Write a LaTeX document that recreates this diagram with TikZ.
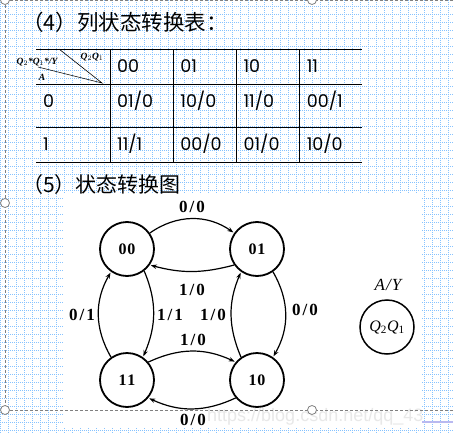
\documentclass[tikz,border=0pt]{standalone}
\usepackage{fontspec}
\setmainfont{Liberation Serif}
\newfontfamily\cjk{Noto Sans CJK SC}
\newfontfamily\cellfont{Poppins}
\newfontfamily\wmfont{Liberation Sans}
\usetikzlibrary{arrows.meta}
\definecolor{gridblue}{RGB}{135,195,255}
\definecolor{framegray}{RGB}{128,128,128}
\definecolor{wmgray}{RGB}{232,232,232}
\definecolor{barpurple}{RGB}{185,185,240}
\begin{document}
\begin{tikzpicture}[x=1pt,y=-1pt,
  gridline/.style={gridblue,line width=0.9pt,dash pattern=on 1pt off 1pt},
  tabline/.style={line width=0.8pt},
  cell/.style={anchor=west,inner sep=0pt,font=\cellfont\fontsize{17.5}{19}\selectfont},
  head/.style={inner sep=0pt,font=\bfseries\itshape\fontsize{9.5}{10}\selectfont},
  state/.style={circle,draw,line width=1.8pt,minimum size=54pt,inner sep=0pt,font=\bfseries\fontsize{16}{18}\selectfont},
  lbl/.style={inner sep=0pt,font=\bfseries\fontsize{17}{19}\selectfont},
  trans/.style={line width=1.2pt,-{Stealth[length=6pt,width=4.5pt]},shorten >=1pt},
  handle/.style={circle,draw=framegray,fill=white,line width=0.8pt,minimum size=9pt,inner sep=0pt}]
\useasboundingbox (0,0) rectangle (453,434);
% background grid
\foreach \x in {0,8,...,448} \draw[gridline] (\x,0) -- (\x,434);
\foreach \i in {0,...,53} \draw[gridline] (0,6.7+8*\i) -- (453,6.7+8*\i);
\fill[white] (63,194) rectangle (422,428);
% (4) table
\node[anchor=west,inner sep=0pt,font=\cjk\fontsize{21.5}{25}\selectfont] (title4) at (22,22) {（4）列状态转换表：};
\foreach \y in {49,84,127,162} \draw[tabline] (36,\y) -- (362,\y);
\foreach \x in {110,173,236,299} \draw[tabline] (\x,49) -- (\x,162);
\coordinate (hd) at (102,83);
\draw[line width=0.6pt] (59,49) -- (hd) -- (38,67);
\node[head] (hnext) at (37,62) {Q$_2$*Q$_1$*/Y};
\node[head] (hstate) at (92,57) {Q$_2$Q$_1$};
\node[head] (hin) at (42,77) {A};
\foreach \t [count=\c from 0] in {00,01,10,11}
  \node[cell] (h\c) at (117+63.2*\c,66) {\t};
\node[cell] (r0) at (43,101) {0};
\node[cell] (r1) at (43,144) {1};
\foreach \t [count=\c from 0] in {01/0,10/0,11/0,00/1}
  \node[cell] (a\c) at (117+63.2*\c,101) {\t};
\foreach \t [count=\c from 0] in {11/1,00/0,01/0,10/0}
  \node[cell] (b\c) at (117+63.2*\c,144) {\t};
% (5) state diagram
\node[anchor=west,inner sep=0pt,font=\cjk\fontsize{21}{25}\selectfont] (title5) at (22,185) {（5）状态转换图};
\node[state] (s00) at (127,249) {0\kern1pt0};
\node[state] (s01) at (257,249) {0\kern1pt1};
\node[state] (s11) at (127,380) {1\kern1pt1};
\node[state] (s10) at (257,380) {1\kern1pt0};
\draw[trans] (s00.35) to[out=35,in=145] (s01.145);
\draw[trans] (s01.-145) to[out=195,in=-15] (s00.-35);
\draw[trans] (s11.125) to[out=120,in=240] (s00.235);
\draw[trans] (s00.-52) to[out=-67,in=67] (s11.55);
\draw[trans] (s10.125) to[out=113,in=247] (s01.235);
\draw[trans] (s01.-55) to[out=-60,in=60] (s10.55);
\draw[trans] (s11.40) to[out=25,in=155] (s10.140);
\draw[trans] (s10.-140) to[out=205,in=-25] (s11.-40);
\node[lbl] (l1) at (192,207) {0\kern2pt/\kern2pt0};
\node[lbl] (l2) at (192,290) {1\kern2pt/\kern2pt0};
\node[lbl] (l3) at (82,315) {0\kern2pt/\kern2pt1};
\node[lbl] (l4) at (170,315) {1\kern2pt/\kern2pt1};
\node[lbl] (l5) at (213,315) {1\kern2pt/\kern2pt0};
\node[lbl] (l6) at (305,310) {0\kern2pt/\kern2pt0};
\node[lbl] (l7) at (193,340) {1\kern2pt/\kern2pt0};
\node[lbl] (l8) at (193,420) {0\kern2pt/\kern2pt0};
% legend
\node[inner sep=0pt,font=\itshape\fontsize{17}{19}\selectfont] (key) at (388,285) {A\kern1pt/\kern1ptY};
\node[circle,draw,line width=1.5pt,minimum size=54pt,inner sep=0pt,font=\itshape\fontsize{16}{18}\selectfont] (skey) at (387,327) {Q\textsubscript{\upshape 2}Q\textsubscript{\upshape 1}};
% watermark
\begin{scope}
\clip (63,194) rectangle (422,428);
\node[anchor=west,inner sep=0pt,text=wmgray,font=\wmfont\fontsize{18}{20}\selectfont] (wm) at (207,417) {https://blog.csdn.net/qq\_43543515};
\end{scope}
\fill[barpurple] (422,420.5) rectangle (453,422.5);
% selection frame
\draw[framegray,line width=0.8pt,dash pattern=on 3pt off 2pt] (5,0.5) -- (453,0.5);
\draw[framegray,line width=0.8pt,dash pattern=on 3pt off 2pt] (5,0) -- (5,410) -- (453,410);
\foreach \p/\n in {{(5,0)}/ha,{(312,0)}/hb,{(5,203)}/hc,{(5,410)}/hd,{(312,410)}/he}
  \node[handle] (\n) at \p {};
\end{tikzpicture}
\end{document}
